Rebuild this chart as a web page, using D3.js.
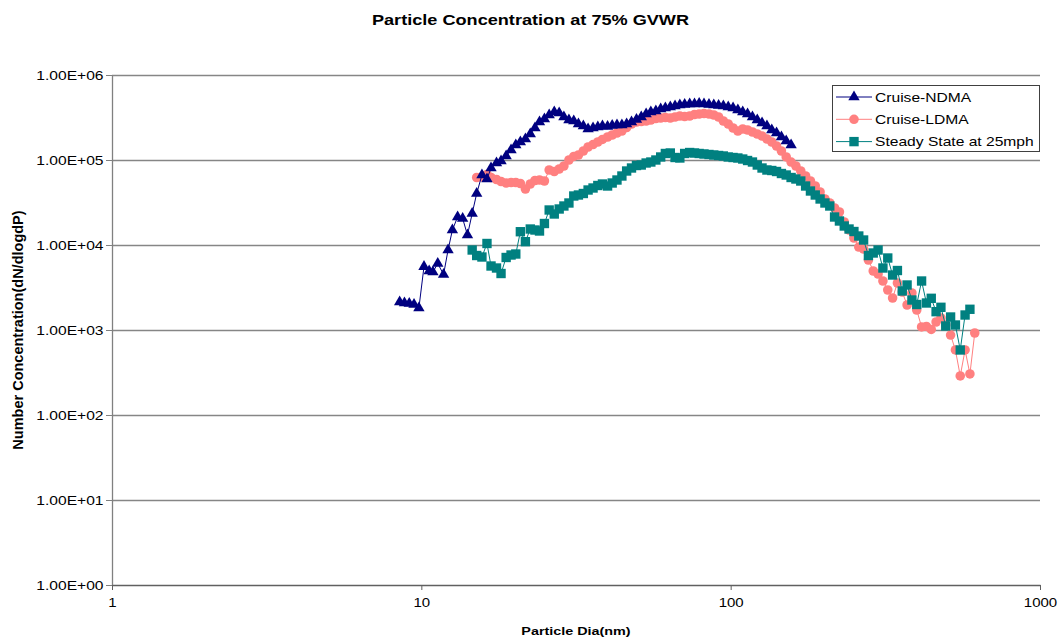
<!DOCTYPE html>
<html>
<head>
<meta charset="utf-8">
<script src="https://cdn.jsdelivr.net/npm/d3@7/dist/d3.min.js"></script>
<style>
  html, body { margin: 0; padding: 0; background: #fff; }
  svg { display: block; font-family: "Liberation Sans", Arial, sans-serif; }
</style>
</head>
<body>
<svg id="chart" width="1061" height="642"></svg>
<script>
// SMPS channel mid-point diameters (nm), 64 channels per decade
const diameters = [
  8.51, 8.82, 9.14, 9.47, 9.82, 10.2, 10.6, 10.9, 11.3, 11.8,
  12.2, 12.6, 13.1, 13.6, 14.1, 14.6, 15.1, 15.7, 16.3, 16.8,
  17.5, 18.1, 18.8, 19.5, 20.2, 20.9, 21.7, 22.5, 23.3, 24.1,
  25.0, 25.9, 26.9, 27.9, 28.9, 30.0, 31.1, 32.2, 33.4, 34.6,
  35.9, 37.2, 38.5, 40.0, 41.4, 42.9, 44.5, 46.1, 47.8, 49.6,
  51.4, 53.3, 55.2, 57.3, 59.4, 61.5, 63.8, 66.1, 68.5, 71.0,
  73.7, 76.4, 79.1, 82.0, 85.1, 88.2, 91.4, 94.7, 98.2, 101.8,
  105.5, 109.4, 113.4, 117.6, 121.9, 126.3, 131.0, 135.8, 140.7, 145.9,
  151.2, 156.8, 162.5, 168.5, 174.7, 181.1, 187.7, 194.6, 201.7, 209.1,
  216.7, 224.7, 232.9, 241.4, 250.3, 259.5, 269.0, 278.8, 289.0, 299.6,
  310.6, 322.0, 333.8, 346.0, 358.7, 371.8, 385.4, 399.5, 414.2, 429.4,
  445.1, 461.4, 478.3, 495.8, 514.0, 532.8, 552.3, 572.5, 593.5, 615.3
];

// Cruise-NDMA: starts at channel 0 (8.51 nm)
const ndmaStart = 0;
const ndmaConc = [
  2135, 2078, 2050, 1995, 1815, 5560, 4944, 4812, 6058, 4497,
  8731, 15010, 21350, 20500, 13110, 23480, 40350, 66600, 59760, 80500,
  92170, 97300, 111500, 131100, 150100, 162800, 176600, 202200, 237900, 279900,
  303600, 338400, 367000, 357200, 320500, 295500, 287600, 265200, 251200, 231600,
  237900, 244500, 251200, 247800, 254600, 258100, 258100, 265200, 279900, 299500,
  320500, 347700, 367000, 377100, 398100, 409000, 420200, 431800, 443600, 449700,
  455800, 455800, 462000, 455800, 449700, 443600, 437700, 431800, 420200, 409000,
  387400, 367000, 347700, 320500, 295500, 272500, 251200, 225400, 207800, 186500,
  167300, 150100
];

// Cruise-LDMA: starts at channel 16 (15.1 nm)
const ldmaStart = 16;
const ldmaConc = [
  62250, 63090, 67500, 62250, 58960, 55860, 53620, 54360, 54360, 52900,
  45580, 52190, 57380, 58160, 56610, 76260, 73230, 78350, 84980, 100000,
  110000, 114500, 127600, 142200, 152100, 162800, 174300, 186500, 196800, 207800,
  219300, 241200, 265200, 279900, 283700, 287600, 295500, 307800, 312000, 316200,
  312000, 320500, 329300, 324900, 329300, 343000, 347700, 352400, 347700, 338400,
  320500, 287600, 265200, 237900, 219300, 231600, 225400, 213500, 202200, 191600,
  176600, 162800, 146100, 127600, 108500, 94700, 84980, 74220, 64820, 56610,
  49440, 42020, 34770, 31200, 27250, 24450, 18650, 15010, 12090, 9470,
  8971, 6660, 4944, 4558, 3771, 2955, 2379, 3572, 2799, 1968,
  2725, 1719, 1085, 1100, 1014, 1242, 1384, 1145, 873, 582,
  288, 582, 304, 922
];

// Steady State at 25mph: starts at channel 15 (14.6 nm)
const steadyStart = 15;
const steadyConc = [
  8731, 7520, 7224, 10420, 5661, 5362, 4620, 7130, 7626, 7835,
  14330, 10940, 15420, 15010, 14610, 17900, 25810, 23160, 26520, 28760,
  31200, 37710, 38740, 40350, 44360, 46830, 50120, 52190, 49440, 53620,
  58160, 64820, 74220, 80500, 86140, 87310, 92170, 94700, 100000, 108500,
  119300, 120900, 107000, 105600, 119300, 122500, 120900, 119300, 117700, 116100,
  114500, 113000, 111500, 108500, 107000, 105600, 102700, 98640, 94700, 87310,
  80500, 76260, 75240, 73230, 69360, 66600, 62250, 59760, 56610, 49440,
  43180, 38740, 34770, 31200, 28760, 21350, 19160, 16730, 15420, 14410,
  12760, 11450, 7520, 8050, 8731, 5362, 7031, 4436, 5010, 2876,
  3384, 2254, 1995, 3771, 2078, 2360, 1642, 1850, 1115, 1422,
  1145, 582, 1501, 1753
];

const seriesNames = ["Cruise-NDMA", "Cruise-LDMA", "Steady State at 25mph"];
const seriesColors = ["#000080", "#FF8080", "#008080"];

const xTicks = [1, 10, 100, 1000];
const xTickLabels = ["1", "10", "100", "1000"];
const yTicks = [1, 10, 100, 1000, 10000, 100000, 1000000];
const yTickLabels = ["1.00E+00", "1.00E+01", "1.00E+02", "1.00E+03", "1.00E+04", "1.00E+05", "1.00E+06"];

const titleText = "Particle Concentration at 75% GVWR";
const xTitle = "Particle Dia(nm)";
const yTitle = "Number Concentration(dN/dlogdP)";

// horizontal text is drawn slightly widened
const WIDE = 1.25;

// ---- layout ----
const plot = { left: 112, right: 1040, top: 75, bottom: 585 };
const svg = d3.select("#chart");

const x = d3.scaleLog().domain([1, 1000]).range([plot.left, plot.right]);
const y = d3.scaleLog().domain([1, 1e6]).range([plot.bottom, plot.top]);

// horizontal gridlines
svg.append("g")
  .selectAll("line")
  .data(yTicks.slice(1))
  .join("line")
  .attr("x1", plot.left).attr("x2", plot.right)
  .attr("y1", d => Math.round(y(d)) + 0.5).attr("y2", d => Math.round(y(d)) + 0.5)
  .attr("stroke", "#868686").attr("stroke-width", 1.6);

// axes
const yAxis = d3.axisLeft(y)
  .tickValues(yTicks)
  .tickFormat((d, i) => yTickLabels[i])
  .tickSize(6).tickSizeOuter(0);
const gy = svg.append("g").attr("transform", `translate(${plot.left},0)`).call(yAxis);
gy.select(".domain").attr("stroke", "#808080").attr("stroke-width", 1.3);
gy.selectAll(".tick line").attr("stroke", "#808080");
gy.selectAll(".tick text")
  .attr("font-size", 12.5).attr("fill", "#000")
  .attr("font-family", "Liberation Sans, Arial, sans-serif")
  .attr("x", -8.5 / WIDE)
  .attr("transform", `scale(${WIDE},1)`);

const xAxis = d3.axisBottom(x)
  .tickValues(xTicks)
  .tickFormat((d, i) => xTickLabels[i])
  .tickSize(5).tickSizeOuter(0);
const gx = svg.append("g").attr("transform", `translate(0,${plot.bottom})`).call(xAxis);
gx.select(".domain").attr("stroke", "#606060").attr("stroke-width", 1.3);
gx.selectAll(".tick line").attr("stroke", "#606060");
gx.selectAll(".tick text")
  .attr("font-size", 12).attr("fill", "#000").attr("dy", "1.15em")
  .attr("font-family", "Liberation Sans, Arial, sans-serif")
  .attr("transform", `scale(${WIDE},1)`);

// titles
svg.append("text").attr("transform", `translate(530.5,25) scale(${WIDE},1)`)
  .attr("text-anchor", "middle")
  .attr("font-size", 14.5).attr("font-weight", "bold").text(titleText);
svg.append("text").attr("transform", `translate(${(plot.left + plot.right) / 2},635) scale(${WIDE},1)`)
  .attr("text-anchor", "middle")
  .attr("font-size", 11.5).attr("font-weight", "bold").text(xTitle);
svg.append("text")
  .attr("transform", `translate(23,${(plot.top + plot.bottom) / 2}) rotate(-90)`)
  .attr("text-anchor", "middle")
  .attr("font-size", 14.5).attr("font-weight", "bold").text(yTitle);

// series
const series = [
  { start: ndmaStart, values: ndmaConc, symbol: d3.symbolTriangle, size: 56 },
  { start: ldmaStart, values: ldmaConc, symbol: d3.symbolCircle, size: 72 },
  { start: steadyStart, values: steadyConc, symbol: d3.symbolSquare, size: 88 }
].map((s, i) => ({
  ...s,
  name: seriesNames[i],
  color: seriesColors[i],
  points: s.values.map((v, k) => ({ d: diameters[s.start + k], v }))
}));

const line = d3.line().x(p => x(p.d)).y(p => y(p.v));
const drawOrder = [1, 0, 2];
drawOrder.forEach(i => {
  const s = series[i];
  const g = svg.append("g");
  g.append("path").datum(s.points)
    .attr("d", line).attr("fill", "none")
    .attr("stroke", s.color).attr("stroke-width", 1);
  g.selectAll("path.mk").data(s.points).join("path").attr("class", "mk")
    .attr("transform", p => `translate(${x(p.d)},${y(p.v)})`)
    .attr("d", d3.symbol(s.symbol, s.size))
    .attr("fill", s.color);
});

// legend
const legend = svg.append("g");
legend.append("rect").attr("x", 832.5).attr("y", 85.5).attr("width", 207).attr("height", 66)
  .attr("fill", "#fff").attr("stroke", "#404040").attr("stroke-width", 1);
series.forEach((s, i) => {
  const cy = 97 + i * 22.3;
  legend.append("line").attr("x1", 836).attr("x2", 872).attr("y1", cy).attr("y2", cy)
    .attr("stroke", s.color).attr("stroke-width", 1);
  legend.append("path").attr("transform", `translate(854,${cy})`)
    .attr("d", d3.symbol(s.symbol, s.size)).attr("fill", s.color);
  legend.append("text").attr("transform", `translate(875,${cy + 4.5}) scale(${WIDE},1)`)
    .attr("font-size", 12.5).attr("fill", "#000").text(s.name);
});
</script>
</body>
</html>
